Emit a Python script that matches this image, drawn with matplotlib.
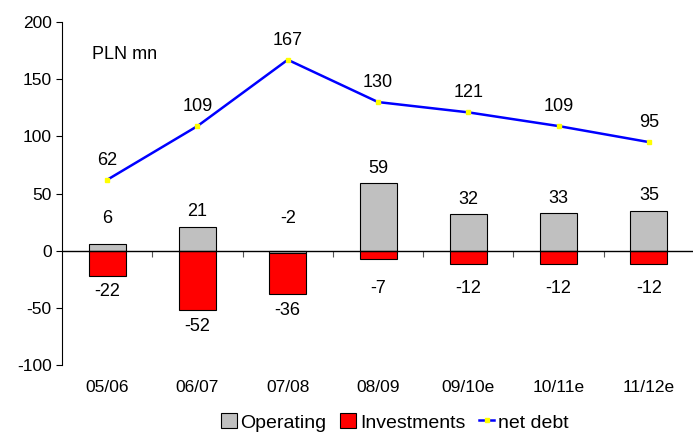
import numpy as np
import matplotlib
matplotlib.use("Agg")
from matplotlib import pyplot as plt
from matplotlib.lines import Line2D
from matplotlib.patches import Patch

plt.rcParams['font.family'] = ['Liberation Sans', 'DejaVu Sans']
plt.rcParams['axes.unicode_minus'] = False

years = ["05/06", "06/07", "07/08", "08/09", "09/10e", "10/11e", "11/12e"]
operating = [6, 21, -2, 59, 32, 33, 35]
investments = [-22, -52, -36, -7, -12, -12, -12]
net_debt = [62, 109, 167, 130, 121, 109, 95]

fig = plt.figure(figsize=(6.93, 4.32), dpi=100)
ax = fig.add_axes([0.0895, 0.155, 0.912, 0.794])

x = np.arange(len(years))
op = np.array(operating)
inv = np.array(investments)
# investments stack under operating when operating is negative
inv_base = np.where(op < 0, op, 0)

ax.bar(x, op, width=0.41, color="#C0C0C0", edgecolor="black", linewidth=0.8, zorder=2)
ax.bar(x, inv, width=0.41, bottom=inv_base, color="#FF0000", edgecolor="black", linewidth=0.8, zorder=2)
ax.axhline(0, color="black", linewidth=1, zorder=3)
ax.plot(x, net_debt, color="#0000FF", linewidth=1.8, marker="s", markersize=2.5,
        markerfacecolor="yellow", markeredgecolor="yellow", zorder=4)

# data labels
for i in range(len(years)):
    ax.text(x[i], max(op[i], 15) + 13, str(op[i]), ha="center", va="center", fontsize=13)
    low = inv_base[i] + inv[i]
    ax.text(x[i], min(low - 14, -33), str(inv[i]), ha="center", va="center", fontsize=13)
    ax.annotate(str(net_debt[i]), (x[i], net_debt[i]), xytext=(0, 8), textcoords="offset points",
                ha="center", va="bottom", fontsize=13)

ax.text(0.047, 0.905, "PLN mn", transform=ax.transAxes, fontsize=13, va="center")

ax.set_xlim(-0.5, 6.5)
ax.set_ylim(-100, 200)
ax.set_yticks([-100, -50, 0, 50, 100, 150, 200])
ax.tick_params(axis="y", labelsize=12.5, length=4, width=0.8)
ax.set_xticks(x)
ax.set_xticklabels(years)
ax.tick_params(axis="x", length=0, pad=11, labelsize=12.5)
for s in ["top", "right", "bottom"]:
    ax.spines[s].set_visible(False)
ax.spines["left"].set_linewidth(0.8)

# category separators on the zero line
sec = ax.secondary_xaxis(1 / 3)
sec.set_xticks(x[:-1] + 0.5)
sec.set_xticklabels([])
sec.tick_params(length=4, width=0.8, color="#555555", direction="out")
sec.spines["bottom"].set_visible(False)

handles = [Patch(facecolor="#C0C0C0", edgecolor="black", linewidth=0.8),
           Patch(facecolor="#FF0000", edgecolor="black", linewidth=0.8),
           Line2D([], [], color="#0000FF", linewidth=1.8, marker="s", markersize=2.5,
                  markerfacecolor="yellow", markeredgecolor="yellow")]
fig.legend(handles, ["Operating", "Investments", "net debt"], loc="center",
           bbox_to_anchor=(0.57, 0.022), ncol=3, frameon=False, fontsize=14,
           handlelength=0.8, handleheight=0.8, handletextpad=0.2, columnspacing=0.7,
           borderpad=0)

fig.savefig("out.png", dpi=100)
